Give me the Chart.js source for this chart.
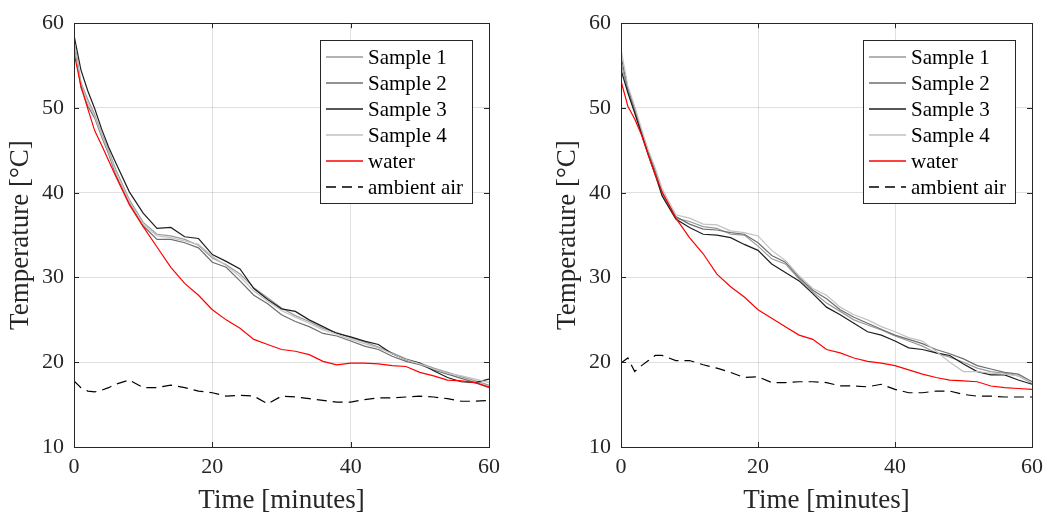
<!DOCTYPE html>
<html>
<head>
<meta charset="utf-8">
<script src="https://cdn.jsdelivr.net/npm/chart.js@4.4.1/dist/chart.umd.min.js"></script>
<style>
    html, body { margin: 0; padding: 0; background: #fff; }
    body { width: 1050px; height: 519px; position: relative; overflow: hidden; }
    canvas { position: absolute; top: 0; }
    #leftChart { left: 0; }
    #rightChart { left: 547px; }
</style>
</head>
<body>
<canvas id="leftChart" width="525" height="519"></canvas>
<canvas id="rightChart" width="503" height="519"></canvas>
<script>
// ===== Data =====
const minutes = [0, 1, 2, 3, 4, 5, 6, 8, 10, 12, 14, 16, 18, 20, 22, 24, 26, 28, 30, 32, 34, 36, 38, 40, 42, 44, 46, 48, 50, 52, 54, 56, 58, 60];
const xTicks = [0, 20, 40, 60];
const yTicks = [10, 20, 30, 40, 50, 60];
const seriesLabels = ['Sample 1', 'Sample 2', 'Sample 3', 'Sample 4', 'water', 'ambient air'];

// left panel
const leftSample1 = [58.2, 53.0, 51.0, 49.2, 47.0, 45.0, 42.8, 39.2, 36.5, 35.1, 34.9, 34.5, 33.8, 32.3, 31.5, 30.4, 28.8, 27.6, 26.4, 25.5, 24.8, 24.0, 23.5, 22.9, 22.4, 21.8, 21.1, 20.4, 19.9, 19.3, 18.8, 18.3, 17.8, 17.3];
const leftSample2 = [57.8, 52.4, 50.2, 48.8, 46.6, 44.6, 42.2, 38.8, 36.1, 34.5, 34.5, 34.1, 33.5, 31.8, 31.2, 29.6, 27.9, 26.9, 25.6, 24.8, 24.2, 23.4, 23.1, 22.5, 21.9, 21.5, 20.7, 20.1, 19.7, 19.1, 18.6, 18.1, 17.6, 17.0];
const leftSample3 = [58.6, 54.5, 52.0, 49.9, 47.5, 45.4, 43.6, 40.1, 37.6, 35.8, 35.9, 34.8, 34.6, 32.7, 31.9, 31.0, 28.7, 27.4, 26.3, 26.0, 25.0, 24.2, 23.4, 23.0, 22.5, 22.1, 21.0, 20.3, 19.9, 19.0, 18.2, 17.7, 17.6, 18.0];
const leftSample4 = [58.0, 52.8, 50.6, 49.0, 46.8, 44.8, 42.5, 39.0, 36.3, 34.9, 34.7, 34.3, 33.9, 32.5, 31.4, 30.1, 28.4, 27.2, 26.1, 25.3, 24.6, 23.8, 23.3, 22.7, 22.2, 21.7, 21.0, 20.3, 19.8, 19.2, 18.7, 18.4, 18.0, 17.6];
const leftWater   = [56.5, 52.6, 49.9, 47.3, 45.6, 43.8, 42.0, 38.6, 36.0, 33.6, 31.2, 29.3, 27.9, 26.2, 25.0, 24.0, 22.7, 22.1, 21.5, 21.3, 20.9, 20.1, 19.7, 19.9, 19.9, 19.8, 19.6, 19.5, 18.8, 18.4, 17.9, 17.8, 17.6, 17.1];
const leftAir     = [17.8, 17.0, 16.6, 16.5, 16.7, 17.0, 17.4, 17.9, 17.0, 17.0, 17.3, 17.0, 16.6, 16.4, 16.0, 16.1, 16.0, 15.1, 16.0, 15.9, 15.7, 15.5, 15.3, 15.3, 15.6, 15.8, 15.8, 15.9, 16.0, 15.9, 15.7, 15.4, 15.4, 15.5];

// right panel
const rightSample1 = [55.3, 52.0, 49.6, 47.0, 44.6, 42.4, 39.8, 37.0, 36.6, 36.0, 35.8, 35.1, 35.0, 33.7, 32.2, 31.6, 29.8, 28.3, 27.0, 26.0, 25.0, 24.4, 23.8, 23.1, 22.5, 21.9, 21.1, 20.6, 20.0, 19.3, 18.9, 18.7, 18.4, 17.5];
const rightSample2 = [56.1, 52.3, 49.9, 47.2, 44.8, 42.6, 40.0, 37.2, 36.3, 35.7, 35.6, 35.3, 35.1, 34.1, 32.6, 31.8, 30.0, 28.5, 27.5, 26.2, 25.3, 24.6, 23.9, 23.2, 22.7, 22.2, 21.5, 21.0, 20.4, 19.6, 19.2, 18.8, 18.6, 17.7];
const rightSample3 = [54.5, 51.8, 49.4, 46.9, 44.4, 42.1, 39.6, 36.9, 35.9, 35.1, 35.0, 34.7, 33.9, 33.2, 31.6, 30.6, 29.6, 28.1, 26.5, 25.6, 24.6, 23.6, 23.2, 22.5, 21.7, 21.5, 21.1, 20.8, 19.8, 18.9, 18.5, 18.5, 17.9, 17.4];
const rightSample4 = [56.9, 52.6, 50.2, 47.5, 45.0, 42.9, 40.5, 37.4, 37.0, 36.3, 36.2, 35.5, 35.3, 34.9, 33.2, 32.0, 30.2, 28.7, 27.9, 26.5, 25.6, 25.0, 24.2, 23.6, 22.9, 22.5, 21.3, 20.0, 18.9, 18.9, 18.7, 18.6, 18.4, 17.6];
const rightWater   = [53.2, 50.2, 48.7, 46.8, 44.4, 42.1, 40.1, 37.0, 34.7, 32.8, 30.4, 28.9, 27.7, 26.2, 25.2, 24.2, 23.2, 22.7, 21.5, 21.1, 20.5, 20.1, 19.9, 19.6, 19.1, 18.6, 18.2, 17.9, 17.8, 17.7, 17.2, 17.0, 16.9, 16.8];
const rightAir     = [19.9, 20.5, 18.9, 19.6, 20.2, 20.8, 20.8, 20.2, 20.2, 19.7, 19.3, 18.8, 18.2, 18.3, 17.6, 17.6, 17.7, 17.7, 17.6, 17.2, 17.2, 17.1, 17.4, 16.8, 16.4, 16.4, 16.6, 16.6, 16.2, 16.0, 16.0, 15.9, 15.9, 15.9];

// ===== Styling =====
const AXIS_COLOR = '#262626';
const GRID_COLOR = 'rgba(38, 38, 38, 0.14)';
const lineColors = ['#9a9a9a', '#6e6e6e', '#1e1e1e', '#c2c2c2', '#ff0000', '#000000'];
const FONT = '"Liberation Serif", "Times New Roman", serif';

Chart.defaults.font.family = FONT;
Chart.defaults.color = AXIS_COLOR;

function toPoints(values) {
    return minutes.map((t, i) => ({ x: t, y: values[i] }));
}

// box around the plot with inward tick marks on all four sides
const axesBox = {
    id: 'axesBox',
    afterDraw(chart) {
        const { ctx, chartArea: a, scales } = chart;
        ctx.save();
        ctx.strokeStyle = AXIS_COLOR;
        ctx.lineWidth = 1;
        ctx.setLineDash([]);
        ctx.strokeRect(Math.round(a.left) + 0.5, Math.round(a.top) + 0.5,
            Math.round(a.right - a.left), Math.round(a.bottom - a.top));
        ctx.beginPath();
        xTicks.forEach(v => {
            const px = Math.round(scales.x.getPixelForValue(v)) + 0.5;
            ctx.moveTo(px, a.bottom); ctx.lineTo(px, a.bottom - 5);
            ctx.moveTo(px, a.top); ctx.lineTo(px, a.top + 5);
        });
        yTicks.forEach(v => {
            const py = Math.round(scales.y.getPixelForValue(v)) + 0.5;
            ctx.moveTo(a.left, py); ctx.lineTo(a.left + 5, py);
            ctx.moveTo(a.right, py); ctx.lineTo(a.right - 5, py);
        });
        ctx.stroke();
        ctx.restore();
    }
};

// MATLAB-like legend in the upper right of the plot
const boxLegend = {
    id: 'boxLegend',
    afterDraw(chart) {
        const { ctx, chartArea: a } = chart;
        const w = 152, h = 163;
        const x0 = Math.round(a.right - 169), y0 = Math.round(a.top + 17);
        ctx.save();
        ctx.fillStyle = '#ffffff';
        ctx.fillRect(x0, y0, w, h);
        ctx.strokeStyle = AXIS_COLOR;
        ctx.lineWidth = 1;
        ctx.strokeRect(x0 + 0.5, y0 + 0.5, w, h);
        ctx.font = '21px ' + FONT;
        ctx.textBaseline = 'middle';
        seriesLabels.forEach((label, i) => {
            const cy = Math.round(y0 + 16.5 + i * 26);
            ctx.strokeStyle = lineColors[i];
            ctx.lineWidth = 1.6;
            ctx.setLineDash(i === 5 ? [10, 6] : []);
            ctx.beginPath();
            ctx.moveTo(x0 + 6, cy);
            ctx.lineTo(x0 + 43, cy);
            ctx.stroke();
            ctx.fillStyle = '#000';
            ctx.fillText(label, x0 + 48, cy + 1);
        });
        ctx.restore();
    }
};

function makePanel(canvasId, series, rightPad) {
    const datasets = series.map((values, i) => ({
        label: seriesLabels[i],
        data: toPoints(values),
        borderColor: lineColors[i],
        borderWidth: 1.2,
        borderDash: i === 5 ? [10, 6] : [],
        pointRadius: 0,
        tension: 0,
        fill: false,
        order: 5 - i
    }));

    return new Chart(document.getElementById(canvasId), {
        type: 'line',
        data: { datasets: datasets },
        options: {
            responsive: false,
            animation: false,
            layout: { padding: { top: 18, right: rightPad, bottom: 0, left: 0 } },
            plugins: {
                legend: { display: false },
                tooltip: { enabled: false }
            },
            scales: {
                x: {
                    type: 'linear',
                    min: 0,
                    max: 60,
                    afterBuildTicks: s => { s.ticks = xTicks.map(v => ({ value: v })); },
                    afterFit: s => { s.height = 72; },
                    grid: { color: GRID_COLOR, drawTicks: false },
                    border: { display: false },
                    ticks: { padding: 7, maxRotation: 0, color: AXIS_COLOR, font: { size: 22 } },
                    title: {
                        display: true,
                        text: 'Time [minutes]',
                        color: AXIS_COLOR,
                        font: { size: 27 },
                        padding: { top: 0, bottom: 2 }
                    }
                },
                y: {
                    type: 'linear',
                    min: 10,
                    max: 60,
                    afterBuildTicks: s => { s.ticks = yTicks.map(v => ({ value: v })); },
                    afterFit: s => { s.width = 74; },
                    grid: { color: GRID_COLOR, drawTicks: false },
                    border: { display: false },
                    ticks: { padding: 10, color: AXIS_COLOR, font: { size: 22 } },
                    title: {
                        display: true,
                        text: 'Temperature [°C]',
                        color: AXIS_COLOR,
                        font: { size: 27 },
                        padding: { top: 5, bottom: 0 }
                    }
                }
            }
        },
        plugins: [axesBox, boxLegend]
    });
}

makePanel('leftChart', [leftSample1, leftSample2, leftSample3, leftSample4, leftWater, leftAir], 36);
makePanel('rightChart', [rightSample1, rightSample2, rightSample3, rightSample4, rightWater, rightAir], 15);
</script>
</body>
</html>
